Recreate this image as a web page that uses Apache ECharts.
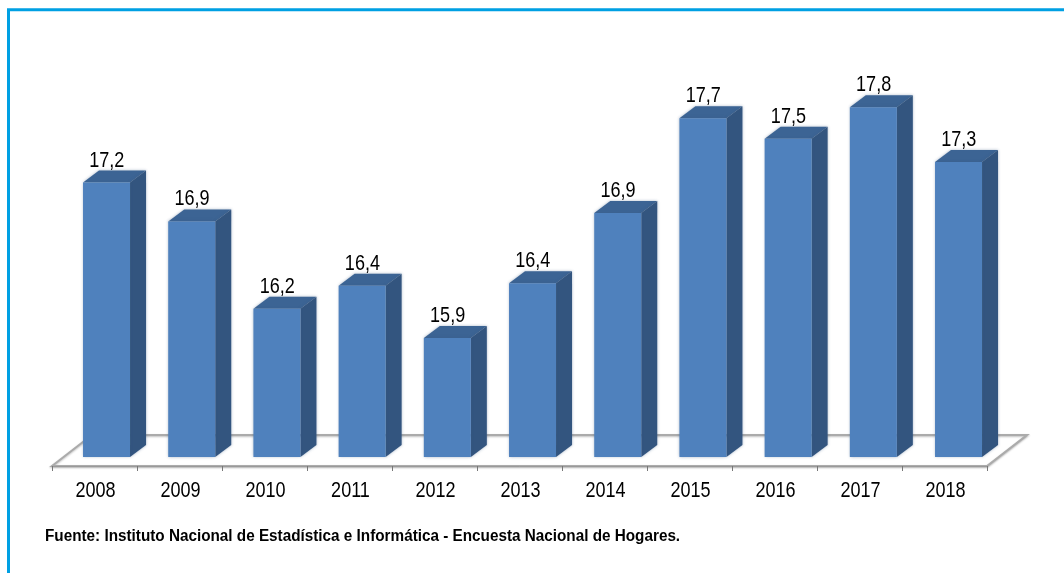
<!DOCTYPE html>
<html>
<head>
<meta charset="utf-8">
<style>
html, body { margin: 0; padding: 0; background: #fff; }
#chart { width: 1064px; height: 573px; }
</style>
<script src="https://cdn.jsdelivr.net/npm/echarts@6/dist/echarts.min.js"></script>
</head>
<body>
<div id="chart"></div>
<script>
const years = ['2008', '2009', '2010', '2011', '2012', '2013', '2014', '2015', '2016', '2017', '2018'];
// printed labels of the reference
const labels = ['17,2', '16,9', '16,2', '16,4', '15,9', '16,4', '16,9', '17,7', '17,5', '17,8', '17,3'];
// bar heights (they do not follow the printed labels exactly)
const heights = [17.18, 16.86, 16.14, 16.33, 15.90, 16.35, 16.93, 17.71, 17.54, 17.80, 17.35];

const chart = echarts.init(document.getElementById('chart'), null, { renderer: 'canvas' });
const font = '22px "Liberation Sans", Arial, sans-serif';
// the reference text is squeezed horizontally
const squeeze = 0.82;

function renderBar(params, api) {
    const i = api.value(0);
    const top = api.coord([i, api.value(1)]);
    const bottom = api.coord([i, 14.92]);
    const band = api.size([1, 0])[0];
    // bars are spaced a hair wider than the axis ticks in the reference
    const x0 = top[0] - band * 0.135 + i * 0.2;
    const x1 = x0 + band * 0.553;
    const dx = 16;
    const dy = 12;
    const blur = { shadowBlur: 3, shadowColor: 'rgba(60,90,130,0.45)' };
    return {
        type: 'group',
        children: [
            {
                type: 'polygon',
                shape: { points: [[x0, top[1]], [x0 + dx, top[1] - dy], [x1 + dx, top[1] - dy], [x1, top[1]]] },
                style: Object.assign({ fill: '#3c6494' }, blur)
            },
            {
                type: 'polygon',
                shape: { points: [[x1, top[1]], [x1 + dx, top[1] - dy], [x1 + dx, bottom[1] - dy], [x1, bottom[1]]] },
                style: Object.assign({ fill: '#33557f' }, blur)
            },
            {
                type: 'rect',
                shape: { x: x0, y: top[1], width: x1 - x0, height: bottom[1] - top[1] },
                style: Object.assign({ fill: '#4f81bd' }, blur)
            },
            {
                type: 'text',
                x: x0 + band * 0.28,
                y: top[1] - 11,
                scaleX: squeeze,
                style: { text: labels[i], font: font, fill: '#000', align: 'center', verticalAlign: 'bottom' }
            },
            {
                type: 'text',
                x: top[0] + 1,
                y: bottom[1] + 34,
                scaleX: squeeze,
                style: { text: years[i], font: font, fill: '#000', align: 'center', verticalAlign: 'middle' }
            }
        ]
    };
}

function renderFloor(params, api) {
    if (params.dataIndex !== 0) return null;
    const left = params.coordSys.x;
    const right = left + params.coordSys.width;
    const base = params.coordSys.y + params.coordSys.height;
    const pts = [[left, base + 9], [left + 40, base - 22], [right + 40, base - 22], [right, base + 9]];
    return {
        type: 'polygon',
        shape: { points: pts },
        style: { fill: '#fff', stroke: '#ababab', lineWidth: 2, shadowBlur: 2, shadowColor: 'rgba(0,0,0,0.25)', shadowOffsetY: 1 }
    };
}

chart.setOption({
    animation: false,
    backgroundColor: '#fff',
    grid: { left: 52, right: 77, top: 83, height: 374 },
    xAxis: {
        type: 'category',
        data: years,
        offset: 9,
        z: 3,
        axisLine: { lineStyle: { color: '#999', width: 1 } },
        axisTick: { show: true, length: 5, lineStyle: { color: '#777' } },
        axisLabel: { show: false }
    },
    yAxis: { type: 'value', min: 14.92, max: 18, show: false, splitLine: { show: false } },
    series: [
        {
            type: 'custom',
            z: 1,
            renderItem: renderFloor,
            data: heights.map((v, i) => [i, v]),
            silent: true
        },
        {
            type: 'custom',
            z: 2,
            renderItem: renderBar,
            data: heights.map((v, i) => [i, v]),
            encode: { x: 0, y: 1 }
        }
    ],
    graphic: [
        {
            type: 'polyline',
            shape: { points: [[8.5, 573], [8.5, 9.75], [1064, 9.75]] },
            style: { stroke: '#00a0e3', lineWidth: 3, fill: null }
        },
        {
            type: 'text',
            x: 45,
            y: 529,
            scaleX: 0.955,
            style: {
                text: 'Fuente: Instituto Nacional de Estadística e Informática - Encuesta Nacional de Hogares.',
                font: 'bold 16px "Liberation Sans", Arial, sans-serif',
                fill: '#000'
            }
        }
    ]
});
</script>
</body>
</html>
